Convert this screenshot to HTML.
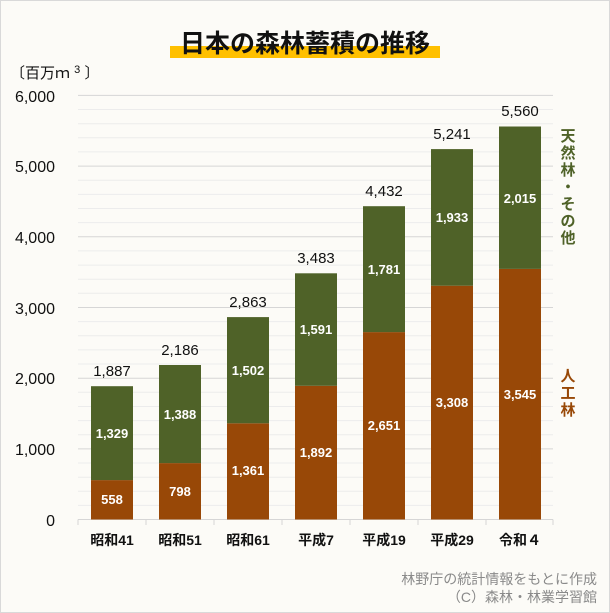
<!DOCTYPE html>
<html><head><meta charset="utf-8"><style>
html,body{margin:0;padding:0;background:#fff}
svg{display:block}
text{font-family:"Liberation Sans","Noto Sans CJK JP",sans-serif}
</style></head><body>
<svg width="610" height="613" viewBox="0 0 610 613" xmlns="http://www.w3.org/2000/svg">
<rect x="0.5" y="0.5" width="609" height="612" fill="#fcfbf7" stroke="#d9d9d9"/>
<rect x="170" y="46" width="270" height="12" fill="#ffc000"/>
<text x="305" y="52" font-size="25" font-weight="bold" text-anchor="middle" fill="#111">日本の森林蓄積の推移</text>
<text x="10" y="78" font-size="15" fill="#111">〔百万ｍ <tspan font-size="11" dy="-5">3</tspan><tspan dy="5"> 〕</tspan></text>
<g stroke="#ececec" stroke-width="1">
<line x1="78" x2="553" y1="505.4" y2="505.4"/><line x1="78" x2="553" y1="491.3" y2="491.3"/><line x1="78" x2="553" y1="477.2" y2="477.2"/><line x1="78" x2="553" y1="463" y2="463"/>
<line x1="78" x2="553" y1="434.7" y2="434.7"/><line x1="78" x2="553" y1="420.6" y2="420.6"/><line x1="78" x2="553" y1="406.5" y2="406.5"/><line x1="78" x2="553" y1="392.3" y2="392.3"/>
<line x1="78" x2="553" y1="364" y2="364"/><line x1="78" x2="553" y1="349.9" y2="349.9"/><line x1="78" x2="553" y1="335.8" y2="335.8"/><line x1="78" x2="553" y1="321.6" y2="321.6"/>
<line x1="78" x2="553" y1="293.3" y2="293.3"/><line x1="78" x2="553" y1="279.2" y2="279.2"/><line x1="78" x2="553" y1="265.1" y2="265.1"/><line x1="78" x2="553" y1="250.9" y2="250.9"/>
<line x1="78" x2="553" y1="222.6" y2="222.6"/><line x1="78" x2="553" y1="208.5" y2="208.5"/><line x1="78" x2="553" y1="194.4" y2="194.4"/><line x1="78" x2="553" y1="180.2" y2="180.2"/>
<line x1="78" x2="553" y1="151.9" y2="151.9"/><line x1="78" x2="553" y1="137.8" y2="137.8"/><line x1="78" x2="553" y1="123.7" y2="123.7"/><line x1="78" x2="553" y1="109.5" y2="109.5"/>
</g>
<g stroke="#d6d6d6" stroke-width="1">
<line x1="78" x2="553" y1="448.9" y2="448.9"/><line x1="78" x2="553" y1="378.2" y2="378.2"/><line x1="78" x2="553" y1="307.5" y2="307.5"/><line x1="78" x2="553" y1="236.8" y2="236.8"/><line x1="78" x2="553" y1="166.1" y2="166.1"/><line x1="78" x2="553" y1="95.4" y2="95.4"/>
<line x1="78" x2="553" y1="519.5" y2="519.5"/>
<line x1="78" x2="78" y1="519.5" y2="525"/><line x1="146" x2="146" y1="519.5" y2="525"/><line x1="214" x2="214" y1="519.5" y2="525"/><line x1="282" x2="282" y1="519.5" y2="525"/><line x1="350" x2="350" y1="519.5" y2="525"/><line x1="418" x2="418" y1="519.5" y2="525"/><line x1="486" x2="486" y1="519.5" y2="525"/><line x1="553" x2="553" y1="519.5" y2="525"/>
</g>
<g font-size="16" fill="#111" text-anchor="end">
<text x="55" y="526">0</text><text x="55" y="455">1,000</text><text x="55" y="384">2,000</text><text x="55" y="314">3,000</text><text x="55" y="243">4,000</text><text x="55" y="172">5,000</text><text x="55" y="102">6,000</text>
</g>
<g>
<rect x="91" y="480.1" width="42" height="39.4" fill="#984807"/><rect x="91" y="386.2" width="42" height="93.9" fill="#4f6228"/>
<rect x="159" y="463.1" width="42" height="56.4" fill="#984807"/><rect x="159" y="365" width="42" height="98.1" fill="#4f6228"/>
<rect x="227" y="423.3" width="42" height="96.2" fill="#984807"/><rect x="227" y="317.1" width="42" height="106.2" fill="#4f6228"/>
<rect x="295" y="385.8" width="42" height="133.7" fill="#984807"/><rect x="295" y="273.3" width="42" height="112.5" fill="#4f6228"/>
<rect x="363" y="332.1" width="42" height="187.4" fill="#984807"/><rect x="363" y="206.2" width="42" height="125.9" fill="#4f6228"/>
<rect x="431" y="285.7" width="42" height="233.8" fill="#984807"/><rect x="431" y="149.1" width="42" height="136.6" fill="#4f6228"/>
<rect x="499" y="268.9" width="42" height="250.6" fill="#984807"/><rect x="499" y="126.5" width="42" height="142.4" fill="#4f6228"/>
</g>
<g font-size="13" font-weight="bold" fill="#fff" text-anchor="middle">
<text x="112" y="504">558</text><text x="112" y="438">1,329</text>
<text x="180" y="496">798</text><text x="180" y="419">1,388</text>
<text x="248" y="475">1,361</text><text x="248" y="375">1,502</text>
<text x="316" y="457">1,892</text><text x="316" y="334">1,591</text>
<text x="384" y="430">2,651</text><text x="384" y="274">1,781</text>
<text x="452" y="407">3,308</text><text x="452" y="222">1,933</text>
<text x="520" y="399">3,545</text><text x="520" y="203">2,015</text>
</g>
<g font-size="15" fill="#111" text-anchor="middle">
<text x="112" y="376">1,887</text><text x="180" y="355">2,186</text><text x="248" y="307">2,863</text><text x="316" y="263">3,483</text><text x="384" y="196">4,432</text><text x="452" y="139">5,241</text><text x="520" y="116">5,560</text>
</g>
<g font-size="14" font-weight="bold" fill="#111" text-anchor="middle">
<text x="112" y="545">昭和41</text><text x="180" y="545">昭和51</text><text x="248" y="545">昭和61</text><text x="316" y="545">平成7</text><text x="384" y="545">平成19</text><text x="452" y="545">平成29</text><text x="520" y="545">令和４</text>
</g>
<g font-size="15" font-weight="bold" fill="#4f6228" text-anchor="middle">
<text x="568" y="141">天</text><text x="568" y="158">然</text><text x="568" y="175">林</text><text x="568" y="192">・</text><text x="568" y="209">そ</text><text x="568" y="226">の</text><text x="568" y="243">他</text>
</g>
<g font-size="15" font-weight="bold" fill="#984807" text-anchor="middle">
<text x="568" y="381">人</text><text x="568" y="398">工</text><text x="568" y="415">林</text>
</g>
<g font-size="14" fill="#8a8a8a" text-anchor="end">
<text x="597" y="584">林野庁の統計情報をもとに作成</text>
<text x="597" y="602">（C）森林・林業学習館</text>
</g>
</svg>
</body></html>
